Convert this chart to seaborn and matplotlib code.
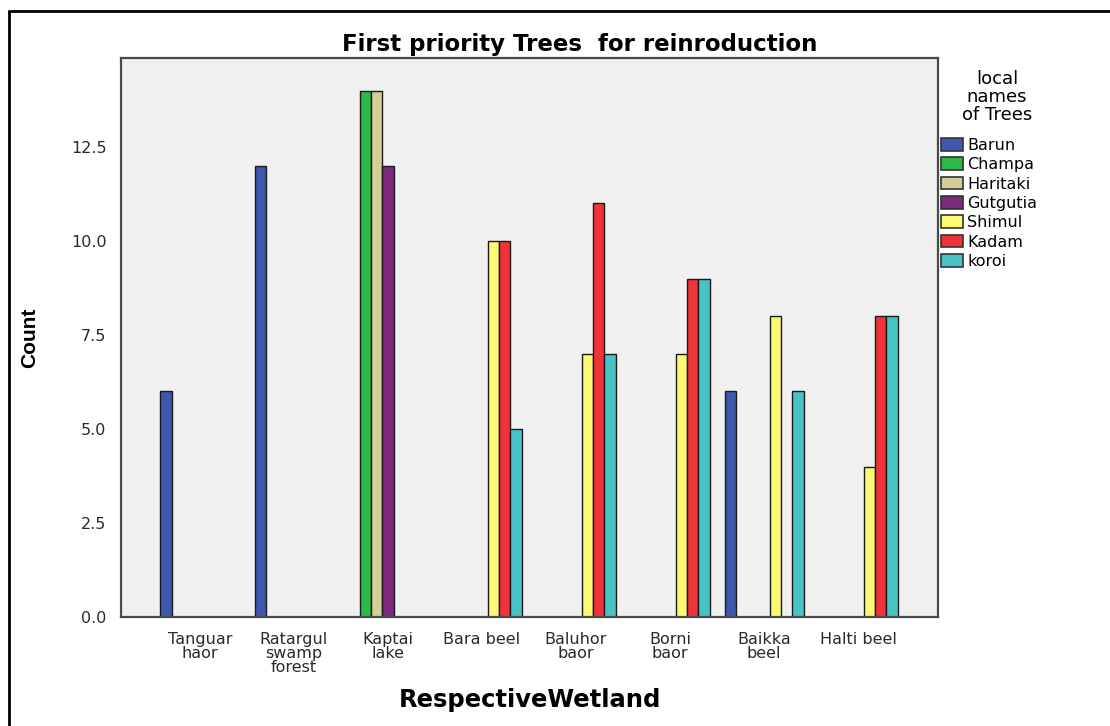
import matplotlib
matplotlib.use("Agg")
import matplotlib.pyplot as plt
from matplotlib.lines import Line2D
import seaborn as sns
import pandas as pd

# Wetlands (x categories) and tree species (hue levels)
wetlands = ["Tanguar\nhaor", "Ratargul\nswamp\nforest", "Kaptai\nlake", "Bara beel",
            "Baluhor\nbaor", "Borni\nbaor", "Baikka\nbeel", "Halti beel"]
trees = ["Barun", "Champa", "Haritaki", "Gutgutia", "Shimul", "Kadam", "koroi"]
colors = ["#3E58AC", "#2EB848", "#D3CE97", "#7C287D", "#FBF873", "#EF3338", "#48C2C5"]

# Counts per tree, one value per wetland (0 = not mentioned)
barun    = [6, 12, 0, 0, 0, 0, 6, 0]
champa   = [0, 0, 14, 0, 0, 0, 0, 0]
haritaki = [0, 0, 14, 0, 0, 0, 0, 0]
gutgutia = [0, 0, 12, 0, 0, 0, 0, 0]
shimul   = [0, 0, 0, 10, 7, 7, 8, 4]
kadam    = [0, 0, 0, 10, 11, 9, 0, 8]
koroi    = [0, 0, 0, 5, 7, 9, 6, 8]

counts = [barun, champa, haritaki, gutgutia, shimul, kadam, koroi]
rows = []
for tree, vals in zip(trees, counts):
    for w, v in zip(wetlands, vals):
        if v > 0:
            rows.append({"wetland": w, "tree": tree, "count": v})
df = pd.DataFrame(rows)

sns.set_style("white")
plt.rcParams["font.family"] = ["DejaVu Sans"]
plt.rcParams["text.color"] = "black"
plt.rcParams["axes.labelcolor"] = "black"

W, H = 1110, 726
fig = plt.figure(figsize=(W / 100, H / 100), dpi=100)
fig.patch.set_facecolor("white")

# plot area in pixel coordinates
x0, x1, y0, y1 = 121, 938, 58, 617
ax = fig.add_axes([x0 / W, 1 - y1 / H, (x1 - x0) / W, (y1 - y0) / H])
ax.set_facecolor("#F0F0F0")

sns.barplot(data=df, x="wetland", y="count", hue="tree",
            order=wetlands, hue_order=trees, palette=colors, saturation=1,
            width=0.84, edgecolor="#1a1a1a", linewidth=1.0,
            ax=ax, legend=True)

ax.set_xlim(-0.84, 7.85)
ax.set_ylim(0, 14.87)
ax.set_yticks([0, 2.5, 5, 7.5, 10, 12.5])
ax.set_yticklabels(["0.0", "2.5", "5.0", "7.5", "10.0", "12.5"])

for s in ax.spines.values():
    s.set_color("#4a4a4a")
    s.set_linewidth(1.6)

ax.tick_params(axis="both", direction="out", length=9, width=1.3,
               color="#333333", labelcolor="#2a2a2a")
ax.tick_params(axis="y", labelsize=11.5, pad=1.5)
ax.tick_params(axis="x", labelsize=11.5, pad=1.5)
for lbl in ax.get_xticklabels():
    lbl.set_linespacing(0.93)

ax.set_xlabel("RespectiveWetland", fontsize=17.5, fontweight="bold")
ax.xaxis.set_label_coords(0.5, -(700 - y1) / (y1 - y0))
ax.xaxis.label.set_va("center")
ax.set_ylabel("Count", fontsize=15, fontweight="bold",
              fontfamily="Liberation Sans")
ax.yaxis.set_label_coords(-0.1, 0.5)

fig.text(580 / W, 1 - 44 / H, "First priority Trees  for reinroduction",
         fontsize=16.5, fontweight="bold", ha="center", va="center")

# legend: centred title block above the colour keys
fig.text(997 / W, 1 - 97 / H, "local\nnames\nof Trees", fontsize=13,
         ha="center", va="center", multialignment="center", linespacing=0.98)
handles, labels = ax.get_legend_handles_labels()
ax.get_legend().remove()
leg = fig.legend(handles, labels,
                 loc="upper left", bbox_to_anchor=(941 / W, 1 - 138 / H),
                 frameon=False, fontsize=11.5,
                 handlelength=1.35, handleheight=0.85, handletextpad=0.3,
                 labelspacing=0.27, borderpad=0, borderaxespad=0)
for p in leg.get_patches():
    p.set_edgecolor("#333333")
    p.set_linewidth(1.2)

# outer frame (left and top edges)
fig.add_artist(Line2D([9 / W, 9 / W], [0, 1 - 11 / H], color="black", lw=2,
                      transform=fig.transFigure))
fig.add_artist(Line2D([9 / W, 1], [1 - 11 / H, 1 - 11 / H], color="black", lw=2,
                      transform=fig.transFigure))

fig.savefig("out.png", dpi=100)
